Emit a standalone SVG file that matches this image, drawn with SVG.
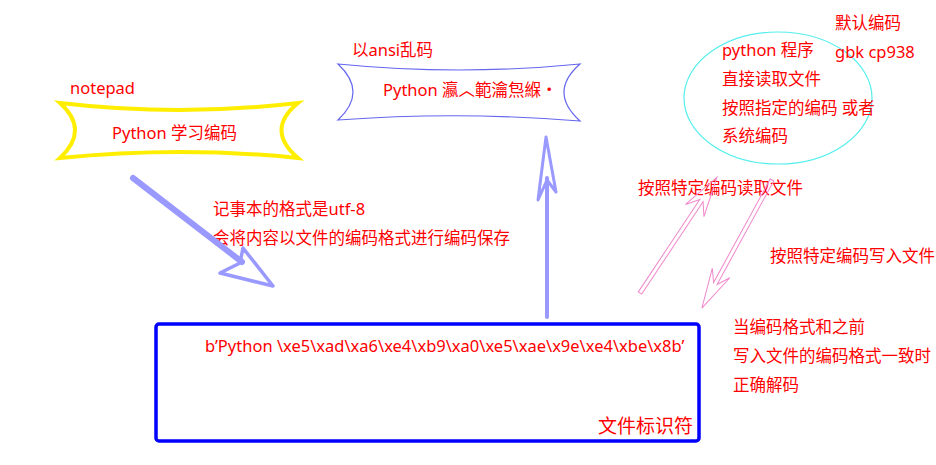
<svg xmlns="http://www.w3.org/2000/svg" width="936" height="465" viewBox="0 0 936 465">
<style>
  text { font-family: "Noto Sans", "Noto Sans CJK SC", sans-serif; font-size: 16.5px; fill: #ff0000; }
  .blue { stroke: #9999ff; fill: none; stroke-linecap: round; stroke-linejoin: round; }
  .pink { stroke: #f088cc; stroke-width: 1; fill: none; stroke-linejoin: miter; }
</style>
<rect width="936" height="465" fill="#ffffff"/>

<g id="notepad-banner">
  <path d="M60,103 Q180,117 298,103 Q265,130 298,158 Q180,146 60,158 Q90,130 60,103 Z" fill="#ffffff" stroke="#ffee00" stroke-width="4" stroke-linejoin="miter"/>
  <text x="70" y="94">notepad</text>
  <text x="112" y="139">Python 学习编码</text>
</g>

<g id="ansi-banner">
  <path d="M338,64 Q459,76 580,64 Q548,92 580,121 Q459,111 338,120 Q368,92 338,64 Z" fill="#ffffff" stroke="#6666ee" stroke-width="1.2"/>
  <text x="352" y="56">以ansi乱码</text>
  <text x="383" y="96">Python 瀛︿範瀹炰緥・</text>
</g>

<g id="python-program">
  <ellipse cx="778" cy="98" rx="94" ry="66" fill="none" stroke="#55eeee" stroke-width="1.2"/>
  <text x="722" y="56">python 程序</text>
  <text x="722" y="85">直接读取文件</text>
  <text x="722" y="114">按照指定的编码 或者</text>
  <text x="722" y="142">系统编码</text>
</g>

<g id="default-encoding">
  <text x="835" y="29">默认编码</text>
  <text x="835" y="58">gbk cp938</text>
</g>

<g id="file-box">
  <rect x="156" y="324" width="543" height="117" rx="3" fill="#ffffff" stroke="#0000ff" stroke-width="3.5"/>
  <text x="205" y="352">b’Python \xe5\xad\xa6\xe4\xb9\xa0\xe5\xae\x9e\xe4\xbe\x8b’</text>
  <text x="598" y="433" style="font-size:19px">文件标识符</text>
</g>

<g id="labels">
  <text x="213" y="215">记事本的格式是utf-8</text>
  <text x="213" y="244">会将内容以文件的编码格式进行编码保存</text>
  <text x="638" y="194">按照特定编码读取文件</text>
  <text x="770" y="262">按照特定编码写入文件</text>
  <text x="733" y="333">当编码格式和之前</text>
  <text x="733" y="362">写入文件的编码格式一致时</text>
  <text x="733" y="391">正确解码</text>
</g>

<g id="connectors">
  <!-- notepad save arrow -->
  <line class="blue" x1="133" y1="178" x2="242" y2="262" stroke-width="6"/>
  <path class="blue" d="M243,248 L273,286 L220,273 L240,263 Z" stroke-width="3.5" fill="#ffffff"/>
  <!-- ansi read arrow -->
  <line class="blue" x1="547" y1="317" x2="547" y2="178" stroke-width="4"/>
  <path class="blue" d="M546,137 L556,192 L547,180 L538,200 Z" stroke-width="3" fill="#ffffff"/>
  <!-- read with encoding (up) -->
  <g transform="translate(640,293) rotate(-56.4)">
    <polygon class="pink" points="0,-2 111,-2 99,-11 139,0 99,11 111,2 0,2"/>
  </g>
  <!-- write with encoding (down) -->
  <g transform="translate(772,180) rotate(118.7)">
    <polygon class="pink" points="0,-2 118,-2 106,-10 146,0 106,10 118,2 0,2"/>
  </g>
</g>
</svg>
